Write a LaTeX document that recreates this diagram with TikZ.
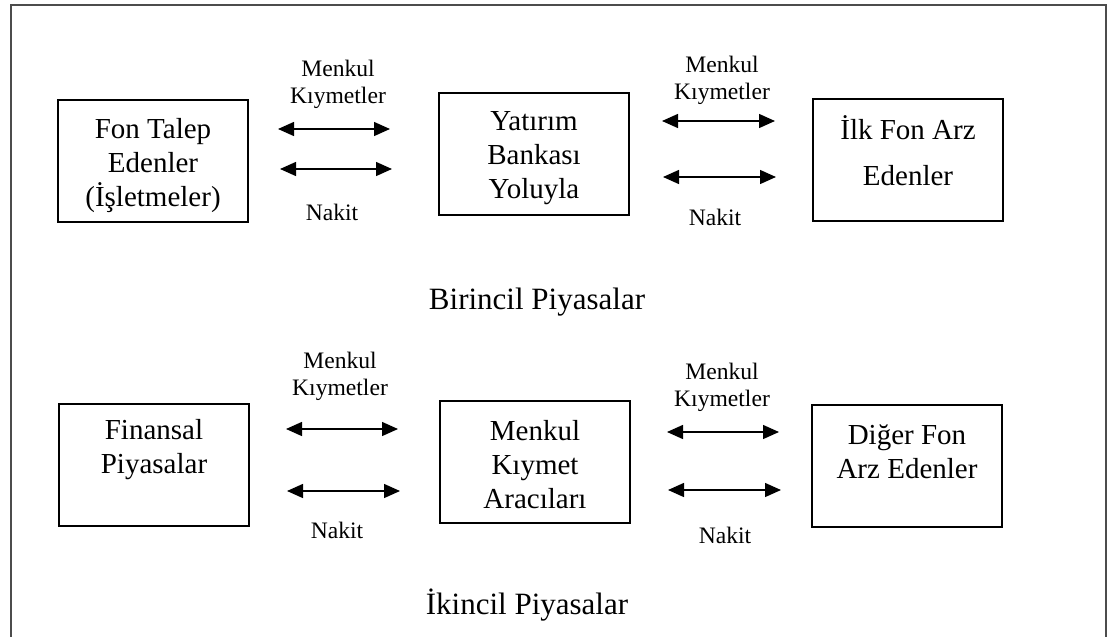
\documentclass[tikz,border=0pt]{standalone}
\usepackage{fontspec}
\setmainfont{Liberation Serif}
\usetikzlibrary{arrows.meta}
\tikzset{>={Triangle[length=8pt,width=7pt]}}
\tikzset{
  kutu/.style={draw,line width=1.2pt,minimum width=95pt,minimum height=61pt,inner sep=0pt},
  kutuyazi/.style={align=center,font=\fontsize{14.5}{17}\selectfont,inner sep=0pt},
  etiket/.style={align=center,font=\fontsize{11.8}{13.5}\selectfont,inner sep=0pt},
  baslik/.style={font=\fontsize{15.5}{18}\selectfont,inner sep=0pt},
  ok/.style={<->,line width=0.7pt}
}

\begin{document}
\begin{tikzpicture}[x=0.5pt,y=-0.5pt]
    \useasboundingbox (0,0) rectangle (1109,637);
    \draw[line width=0.7pt,black!70] (11,637) -- (11,5) -- (1106,5) -- (1106,637);

    % birincil piyasalar
    \node[kutu] (fon) at (153,161) {};
    \node[kutuyazi] (fonyazi) at (153,166) {Fon Talep\\Edenler\\(İşletmeler)};
    \node[kutu] (banka) at (534,154) {};
    \node[kutuyazi] (bankayazi) at (534,158) {Yatırım\\Bankası\\Yoluyla};
    \node[kutu] (ilk) at (908,160) {};
    \node[kutuyazi] (ilkyazi) at (908,151) {İlk Fon Arz\\[6pt]Edenler};

    \coordinate (a1) at (278,129); \coordinate (a2) at (390,129);
    \coordinate (b1) at (280,169); \coordinate (b2) at (392,169);
    \coordinate (c1) at (662,121); \coordinate (c2) at (775,121);
    \coordinate (d1) at (663,177); \coordinate (d2) at (776,177);
    \draw[ok] (a1) -- (a2);
    \draw[ok] (b1) -- (b2);
    \draw[ok] (c1) -- (c2);
    \draw[ok] (d1) -- (d2);

    \node[etiket] (mk1) at (338,84) {Menkul\\Kıymetler};
    \node[etiket] (nk1) at (332,212) {Nakit};
    \node[etiket] (mk2) at (722,80) {Menkul\\Kıymetler};
    \node[etiket] (nk2) at (715,217) {Nakit};

    \node[baslik] (birincil) at (537,302) {Birincil Piyasalar};

    % ikincil piyasalar
    \node[kutu] (finans) at (154,465) {};
    \node[kutuyazi] (finansyazi) at (154,450) {Finansal\\Piyasalar};
    \node[kutu] (araci) at (535,462) {};
    \node[kutuyazi] (araciyazi) at (535,465) {Menkul\\Kıymet\\Aracıları};
    \node[kutu] (diger) at (907,466) {};
    \node[kutuyazi] (digeryazi) at (907,452) {Diğer Fon\\Arz Edenler};

    \coordinate (e1) at (286,429); \coordinate (e2) at (398,429);
    \coordinate (f1) at (287,491); \coordinate (f2) at (400,491);
    \coordinate (g1) at (667,432); \coordinate (g2) at (779,432);
    \coordinate (h1) at (668,490); \coordinate (h2) at (781,490);
    \draw[ok] (e1) -- (e2);
    \draw[ok] (f1) -- (f2);
    \draw[ok] (g1) -- (g2);
    \draw[ok] (h1) -- (h2);

    \node[etiket] (mk3) at (340,376) {Menkul\\Kıymetler};
    \node[etiket] (nk3) at (337,530) {Nakit};
    \node[etiket] (mk4) at (722,387) {Menkul\\Kıymetler};
    \node[etiket] (nk4) at (725,535) {Nakit};

    \node[baslik] (ikincil) at (527,605) {İkincil Piyasalar};
\end{tikzpicture}
\end{document}
